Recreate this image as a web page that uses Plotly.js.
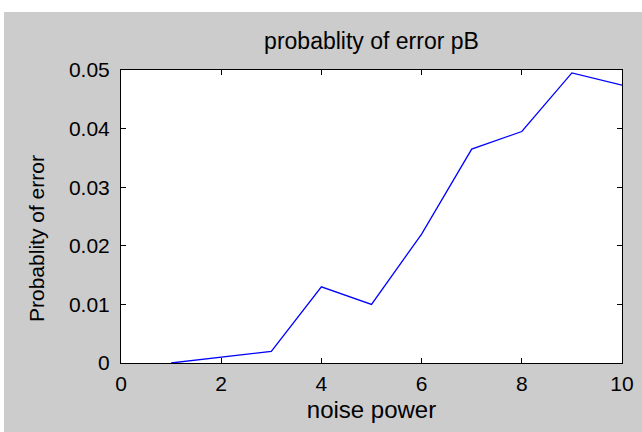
<!DOCTYPE html>
<html>
<head>
<meta charset="utf-8">
<script src="https://cdn.plot.ly/plotly-3.0.1.min.js"></script>
<style>
  html, body { margin: 0; padding: 0; background: #ffffff; width: 642px; height: 432px; overflow: hidden; }
  #chart { position: absolute; left: 4px; top: 12px; width: 638px; height: 420px; }
</style>
</head>
<body>
<div id="chart"></div>
<script>
// Bit-error probability measured at each noise power level
const noisePower = [1, 2, 3, 4, 5, 6, 7, 8, 9, 10];
const errorProb = [0, 0.001, 0.002, 0.013, 0.010, 0.022, 0.0365, 0.0395, 0.0495, 0.0474];

const xTicks = [0, 2, 4, 6, 8, 10];
const yTicks = [0, 0.01, 0.02, 0.03, 0.04, 0.05];
const yTickText = ['0', '0.01', '0.02', '0.03', '0.04', '0.05'];

const FONT = '"Liberation Sans", Arial, sans-serif';

const trace = {
  x: noisePower,
  y: errorProb,
  type: 'scatter',
  mode: 'lines',
  line: { color: '#0000ff', width: 1.3 },
  hoverinfo: 'skip'
};

const axisCommon = {
  showgrid: false,
  zeroline: false,
  showline: true,
  linecolor: '#000000',
  linewidth: 1,
  mirror: 'ticks',
  ticks: 'inside',
  ticklen: 5,
  tickwidth: 1,
  tickcolor: '#000000',
  tickfont: { family: FONT, size: 21, color: '#000000' },
  fixedrange: true
};

const layout = {
  width: 638,
  height: 420,
  paper_bgcolor: '#cccccc',
  plot_bgcolor: '#ffffff',
  margin: { l: 117, r: 20, t: 58, b: 69 },
  showlegend: false,
  title: {
    text: 'probablity of error pB',
    font: { family: FONT, size: 23, color: '#000000' },
    x: 0.5 + (117 - 20) / 2 / 638,
    xanchor: 'center',
    yref: 'container',
    y: 1 - 29 / 420,
    yanchor: 'middle'
  },
  xaxis: Object.assign({}, axisCommon, {
    range: [0, 10],
    tickmode: 'array',
    tickvals: xTicks,
    ticktext: xTicks.map(String),
    ticklabelstandoff: 2,
    title: { text: 'noise power', font: { family: FONT, size: 24, color: '#000000' }, standoff: 6 }
  }),
  yaxis: Object.assign({}, axisCommon, {
    range: [0, 0.05],
    tickmode: 'array',
    tickvals: yTicks,
    ticktext: yTickText,
    ticklabelstandoff: 6
  }),
  // y-axis label placed as a rotated annotation beside the tick labels
  annotations: [{
    text: 'Probablity of error',
    xref: 'paper', yref: 'paper',
    x: -0.1697, y: 0.4266,
    xanchor: 'center', yanchor: 'middle',
    textangle: -90,
    showarrow: false,
    font: { family: FONT, size: 21, color: '#000000' }
  }]
};

Plotly.newPlot('chart', [trace], layout, { displayModeBar: false, staticPlot: true });
</script>
</body>
</html>
